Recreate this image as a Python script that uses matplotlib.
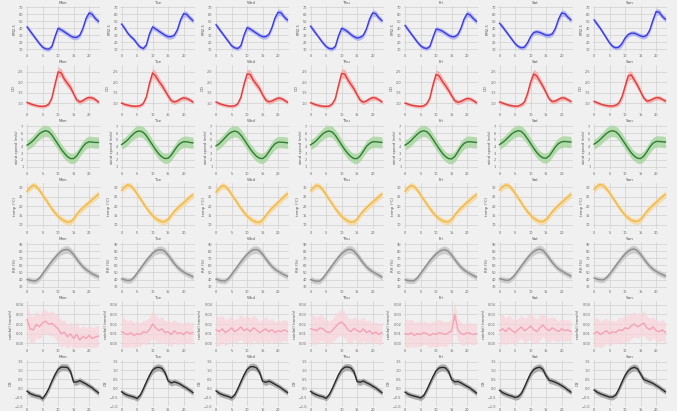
import numpy as np
import matplotlib.pyplot as plt

days = ['Mon', 'Tue', 'Wed', 'Thu', 'Fri', 'Sat', 'Sun']
hours = list(range(24))

# row 1 - blue
pm25 = [
    [42, 36, 30, 24, 18, 13, 10.5, 10, 14, 28, 40, 38, 35, 32, 29, 27, 27, 30, 40, 54, 62, 60, 54, 50],
    [46, 40, 33, 28, 24, 18, 13, 11, 16, 32, 42, 39, 36, 33, 30, 28, 28, 30, 38, 52, 61, 60, 55, 51],
    [45, 39, 33, 27, 21, 15, 12, 11, 15, 30, 41, 39, 36, 33, 30, 28, 28, 31, 41, 55, 63, 62, 56, 52],
    [43, 37, 31, 25, 19, 14, 11, 10.5, 14, 29, 40, 38, 35, 31, 28, 26, 27, 30, 39, 53, 62, 61, 55, 51],
    [44, 38, 32, 26, 20, 15, 12, 11, 14, 27, 39, 38, 36, 33, 30, 28, 28, 31, 40, 53, 61, 59, 54, 50],
    [47, 42, 36, 30, 24, 18, 14, 12, 13, 19, 28, 34, 35, 34, 32, 30, 30, 32, 40, 53, 62, 61, 56, 52],
    [52, 46, 40, 33, 26, 19, 14, 12, 13, 18, 26, 31, 33, 33, 31, 29, 28, 30, 38, 52, 64, 63, 57, 53],
]
pm25_err = [3.5, 3.5, 3, 3, 3, 3, 3, 3, 3.5, 4, 4, 3.5, 3.5, 3.5, 3.5, 3.5, 3.5, 3.5, 4, 4.5, 4.5, 4.5, 4, 4]

# row 2 - red
co = [
    [1.03, 0.97, 0.92, 0.88, 0.85, 0.84, 0.86, 0.95, 1.25, 1.9, 2.5, 2.45, 2.15, 1.95, 1.75, 1.45, 1.15, 1.05, 1.12, 1.22, 1.27, 1.25, 1.17, 1.05],
    [1.0, 0.94, 0.9, 0.87, 0.85, 0.85, 0.88, 0.98, 1.3, 1.95, 2.45, 2.3, 2.05, 1.85, 1.6, 1.35, 1.12, 1.05, 1.1, 1.2, 1.25, 1.22, 1.15, 1.05],
    [1.05, 0.98, 0.93, 0.89, 0.86, 0.85, 0.87, 0.97, 1.28, 1.9, 2.4, 2.38, 2.1, 1.9, 1.7, 1.4, 1.15, 1.06, 1.1, 1.18, 1.24, 1.22, 1.14, 1.04],
    [1.02, 0.96, 0.91, 0.87, 0.85, 0.84, 0.86, 0.96, 1.22, 1.85, 2.42, 2.4, 2.12, 1.9, 1.68, 1.4, 1.14, 1.04, 1.1, 1.2, 1.26, 1.24, 1.16, 1.06],
    [1.0, 0.95, 0.9, 0.87, 0.85, 0.84, 0.87, 0.97, 1.25, 1.88, 2.38, 2.3, 2.05, 1.85, 1.62, 1.36, 1.12, 1.04, 1.08, 1.16, 1.22, 1.2, 1.12, 1.02],
    [1.05, 1.0, 0.95, 0.9, 0.87, 0.85, 0.86, 0.92, 1.05, 1.45, 2.0, 2.4, 2.3, 2.05, 1.8, 1.5, 1.2, 1.07, 1.1, 1.18, 1.25, 1.24, 1.16, 1.08],
    [1.08, 1.02, 0.96, 0.91, 0.88, 0.86, 0.86, 0.9, 1.0, 1.3, 1.8, 2.3, 2.35, 2.1, 1.85, 1.55, 1.25, 1.1, 1.12, 1.2, 1.26, 1.25, 1.18, 1.1],
]
co_err = [0.09, 0.09, 0.08, 0.08, 0.08, 0.08, 0.08, 0.09, 0.13, 0.18, 0.22, 0.22, 0.2, 0.19, 0.18, 0.16, 0.13, 0.11, 0.11, 0.11, 0.11, 0.11, 0.1, 0.1]

# row 3 - green
wind = [
    [4.2, 4.5, 4.9, 5.4, 5.9, 6.2, 6.35, 6.2, 5.7, 5.0, 4.3, 3.6, 3.0, 2.5, 2.2, 2.2, 2.6, 3.3, 4.0, 4.5, 4.7, 4.65, 4.6, 4.6],
    [4.3, 4.6, 5.0, 5.5, 5.95, 6.25, 6.3, 6.1, 5.6, 4.9, 4.2, 3.5, 2.9, 2.45, 2.2, 2.25, 2.7, 3.4, 4.05, 4.5, 4.7, 4.7, 4.6, 4.55],
    [4.1, 4.4, 4.85, 5.35, 5.85, 6.15, 6.3, 6.15, 5.7, 5.05, 4.35, 3.65, 3.05, 2.55, 2.25, 2.2, 2.55, 3.2, 3.9, 4.4, 4.65, 4.65, 4.6, 4.55],
    [4.25, 4.55, 4.95, 5.45, 5.9, 6.2, 6.3, 6.15, 5.65, 4.95, 4.25, 3.55, 2.95, 2.5, 2.2, 2.2, 2.6, 3.3, 4.0, 4.45, 4.7, 4.7, 4.65, 4.6],
    [4.2, 4.5, 4.9, 5.4, 5.85, 6.2, 6.35, 6.2, 5.75, 5.05, 4.35, 3.65, 3.0, 2.5, 2.2, 2.15, 2.5, 3.2, 3.95, 4.45, 4.7, 4.7, 4.65, 4.6],
    [4.3, 4.6, 5.0, 5.45, 5.9, 6.2, 6.35, 6.25, 5.8, 5.15, 4.45, 3.75, 3.1, 2.6, 2.3, 2.25, 2.6, 3.25, 3.95, 4.45, 4.7, 4.75, 4.7, 4.65],
    [4.35, 4.65, 5.05, 5.5, 5.95, 6.25, 6.35, 6.2, 5.75, 5.1, 4.4, 3.7, 3.05, 2.55, 2.25, 2.2, 2.55, 3.2, 3.95, 4.5, 4.75, 4.75, 4.7, 4.65],
]
wind_err = [0.75, 0.75, 0.8, 0.8, 0.85, 0.85, 0.85, 0.85, 0.85, 0.85, 0.8, 0.8, 0.8, 0.75, 0.75, 0.75, 0.8, 0.8, 0.85, 0.85, 0.85, 0.85, 0.85, 0.85]

# row 4 - yellow
temp = [
    [28, 30, 31.3, 30.5, 28.5, 26, 23.5, 21, 18.5, 16.3, 14.5, 13, 12, 11.3, 11.5, 13, 15.5, 17.5, 19, 20.5, 22, 23.5, 25, 26.3],
    [28.5, 30.3, 31.5, 30.8, 29, 26.5, 24, 21.5, 19, 16.8, 14.8, 13.2, 12.2, 11.5, 11.6, 12.8, 15, 17.2, 18.8, 20.3, 21.8, 23.3, 24.8, 26],
    [27.5, 29.5, 31, 30.6, 28.8, 26.3, 23.8, 21.3, 18.8, 16.5, 14.6, 13.1, 12, 11.2, 11.2, 12.5, 14.8, 17, 18.8, 20.4, 22, 23.6, 25.2, 26.5],
    [28.2, 30.1, 31.2, 30.5, 28.6, 26.1, 23.6, 21.1, 18.6, 16.4, 14.5, 13, 11.9, 11.2, 11.4, 12.9, 15.3, 17.4, 19, 20.6, 22.1, 23.6, 25.1, 26.4],
    [28, 29.9, 31.1, 30.4, 28.5, 26, 23.5, 21, 18.6, 16.4, 14.6, 13.1, 12.1, 11.4, 11.5, 12.8, 15.1, 17.2, 18.9, 20.5, 22, 23.4, 24.9, 26.1],
    [28.6, 30.4, 31.4, 30.9, 29.2, 26.8, 24.3, 21.8, 19.2, 16.9, 15, 13.4, 12.3, 11.6, 11.6, 12.7, 14.8, 17, 18.8, 20.4, 21.9, 23.4, 24.9, 26.2],
    [29, 30.7, 31.6, 31, 29.3, 27, 24.5, 22, 19.4, 17.1, 15.1, 13.5, 12.4, 11.7, 11.7, 12.8, 14.9, 17.1, 18.9, 20.5, 22, 23.5, 25, 26.3],
]
temp_err = [1.8, 1.8, 1.7, 1.6, 1.6, 1.6, 1.6, 1.6, 1.6, 1.6, 1.6, 1.6, 1.6, 1.6, 1.7, 1.7, 1.7, 1.7, 1.8, 1.8, 1.8, 1.9, 1.9, 1.9]

# row 5 - gray
rh = [
    [40, 39, 38, 38.5, 42, 48, 54, 60, 66, 71, 76, 80, 82, 82.5, 80, 75, 69, 63, 58, 54, 51, 48, 46, 44],
    [41, 39.5, 38.5, 39, 43, 49, 55, 61, 67, 72, 77, 80.5, 82, 82, 79.5, 74.5, 68.5, 62.5, 57.5, 53.5, 50.5, 48, 46, 44],
    [40.5, 39, 38, 38, 41.5, 47, 53, 59, 65, 70.5, 75.5, 79.5, 82, 82.5, 80.5, 75.5, 69.5, 63.5, 58.5, 54.5, 51.5, 49, 46.5, 44.5],
    [40, 38.5, 37.5, 38, 42, 48, 54, 60, 66, 71.5, 76.5, 80, 82.5, 82.5, 80, 75, 69, 63, 58, 54, 51, 48.5, 46, 43.5],
    [39.5, 38.5, 38, 38.5, 42.5, 48.5, 54.5, 60.5, 66.5, 71.5, 76, 79.5, 81.5, 82, 79.5, 74.5, 68.5, 62.5, 57.5, 53.5, 50.5, 48, 45.5, 43.5],
    [41, 40, 39, 39, 42, 47, 53, 59, 65, 70.5, 75.5, 79.5, 82, 83, 81, 76, 70, 64, 59, 55, 52, 49.5, 47, 45],
    [42, 40.5, 39.5, 39.5, 42.5, 47.5, 53.5, 59.5, 65.5, 71, 76, 80, 82.5, 83, 80.5, 75.5, 69.5, 63.5, 58.5, 54.5, 51.5, 49, 47, 45],
]
rh_err = [4.0, 4.0, 4.0, 4.0, 4.0, 4.2, 4.4, 4.6, 4.8, 5.0, 5.0, 5.2, 5.4, 5.4, 5.2, 5.0, 4.8, 4.6, 4.4, 4.2, 4.0, 4.0, 4.0, 4.0]

# row 6 - pink
rain = [
    [0.0246, 0.0148, 0.0138, 0.0197, 0.0171, 0.0213, 0.0230, 0.0197, 0.0207, 0.0180, 0.0148, 0.0098, 0.0115, 0.0066, 0.0098, 0.0049, 0.0092, 0.0033, 0.0072, 0.0049, 0.0082, 0.0049, 0.0066, 0.0072],
    [0.012, 0.010, 0.009, 0.011, 0.008, 0.010, 0.009, 0.012, 0.011, 0.014, 0.020, 0.016, 0.013, 0.015, 0.011, 0.012, 0.009, 0.013, 0.010, 0.011, 0.009, 0.012, 0.010, 0.011],
    [0.014, 0.012, 0.015, 0.011, 0.013, 0.016, 0.012, 0.014, 0.017, 0.013, 0.015, 0.012, 0.016, 0.014, 0.011, 0.013, 0.015, 0.012, 0.014, 0.011, 0.013, 0.012, 0.014, 0.012],
    [0.015, 0.014, 0.013, 0.016, 0.015, 0.012, 0.011, 0.013, 0.017, 0.0205, 0.022, 0.019, 0.014, 0.012, 0.0156, 0.013, 0.0117, 0.015, 0.011, 0.013, 0.0098, 0.0117, 0.009, 0.011],
    [0.010, 0.009, 0.011, 0.008, 0.010, 0.009, 0.011, 0.010, 0.008, 0.010, 0.009, 0.011, 0.010, 0.009, 0.011, 0.013, 0.030, 0.014, 0.010, 0.009, 0.011, 0.010, 0.009, 0.010],
    [0.013, 0.015, 0.012, 0.016, 0.013, 0.011, 0.014, 0.017, 0.013, 0.015, 0.018, 0.014, 0.012, 0.016, 0.019, 0.015, 0.013, 0.016, 0.014, 0.012, 0.015, 0.013, 0.014, 0.012],
    [0.010, 0.012, 0.009, 0.011, 0.013, 0.010, 0.012, 0.011, 0.014, 0.013, 0.016, 0.015, 0.018, 0.020, 0.017, 0.019, 0.021, 0.016, 0.014, 0.017, 0.013, 0.012, 0.014, 0.011],
]
rain_err = [0.016, 0.015, 0.014, 0.014, 0.013, 0.013, 0.012, 0.012, 0.013, 0.013, 0.014, 0.014, 0.013, 0.013, 0.012, 0.012, 0.013, 0.012, 0.012, 0.011, 0.011, 0.011, 0.011, 0.011]

# row 7 - black
o3 = [
    [-0.17, -0.30, -0.37, -0.43, -0.46, -0.59, -0.35, -0.02, 0.39, 0.76, 1.06, 1.19, 1.19, 1.17, 0.94, 0.35, 0.35, 0.43, 0.33, 0.24, 0.13, 0.02, -0.13, -0.26],
    [-0.20, -0.32, -0.40, -0.45, -0.50, -0.58, -0.40, -0.05, 0.35, 0.72, 1.02, 1.15, 1.18, 1.12, 0.88, 0.42, 0.30, 0.36, 0.30, 0.22, 0.10, 0.00, -0.12, -0.25],
    [-0.15, -0.28, -0.36, -0.42, -0.47, -0.55, -0.38, -0.04, 0.36, 0.74, 1.05, 1.20, 1.22, 1.15, 0.90, 0.40, 0.33, 0.40, 0.32, 0.22, 0.12, 0.01, -0.12, -0.24],
    [-0.18, -0.30, -0.38, -0.44, -0.48, -0.57, -0.37, -0.03, 0.37, 0.75, 1.04, 1.18, 1.20, 1.14, 0.92, 0.38, 0.34, 0.41, 0.31, 0.23, 0.12, 0.02, -0.12, -0.25],
    [-0.22, -0.33, -0.40, -0.45, -0.49, -0.55, -0.42, -0.10, 0.28, 0.65, 0.98, 1.14, 1.18, 1.15, 0.95, 0.50, 0.36, 0.38, 0.30, 0.20, 0.10, 0.00, -0.14, -0.27],
    [-0.12, -0.25, -0.33, -0.40, -0.45, -0.52, -0.48, -0.30, 0.05, 0.45, 0.82, 1.05, 1.15, 1.18, 1.05, 0.70, 0.45, 0.40, 0.33, 0.25, 0.15, 0.04, -0.10, -0.22],
    [-0.10, -0.22, -0.31, -0.38, -0.44, -0.50, -0.50, -0.38, -0.05, 0.35, 0.72, 0.98, 1.12, 1.18, 1.10, 0.80, 0.50, 0.42, 0.35, 0.27, 0.16, 0.05, -0.08, -0.20],
]
o3_err = [0.15, 0.15, 0.15, 0.15, 0.15, 0.15, 0.16, 0.17, 0.18, 0.19, 0.2, 0.2, 0.2, 0.2, 0.19, 0.18, 0.18, 0.17, 0.16, 0.15, 0.15, 0.15, 0.15, 0.15]

ylabels = ['PM2.5', 'CO', 'wind speed (m/s)', 'temp (°C)', 'RH (%)', 'rainfall (mm/h)', 'O3']
yticks = [
    [10, 20, 30, 40, 50, 60, 70],
    [1.0, 1.5, 2.0, 2.5],
    [1, 2, 3, 4, 5, 6, 7],
    [10, 15, 20, 25, 30],
    [30, 40, 50, 60, 70, 80, 90],
    [0.00, 0.01, 0.02, 0.03, 0.04],
    [-1.0, -0.5, 0.0, 0.5, 1.0, 1.5],
]
ylims = [(6, 72), (0.62, 2.83), (0.5, 7.35), (7.6, 32.4), (28, 93), (-0.004, 0.044), (-0.96, 1.59)]
series = [pm25, co, wind, temp, rh, rain, o3]
errors = [pm25_err, co_err, wind_err, temp_err, rh_err, rain_err, o3_err]
line_colors = ['#3a3ae0', '#e23a3a', '#2f7d32', '#f2b844', '#8c8c8c', '#f5a3b4', '#2a2a2a']
band_colors = ['#a8acf2', '#f5a6a6', '#a6d69c', '#f7d89a', '#c4c4c4', '#f9d3dc', '#9c9c9c']
band_alpha = [0.8, 0.8, 0.8, 0.8, 0.8, 0.7, 0.8]

bg = '#f0f0f0'
W, H = 677, 411
fig = plt.figure(figsize=(6.77, 4.11), dpi=100, facecolor=bg)

for r in range(7):
    for c in range(7):
        left = (25.5 + 94.5 * c) / W
        bottom = 1 - (6 + 59 * r + 46) / H
        ax = fig.add_axes([left, bottom, 74.5 / W, 46 / H])
        ax.set_facecolor(bg)
        y = np.array(series[r][c])
        e = np.array(errors[r])
        ax.fill_between(hours, y - e, y + e, color=band_colors[r], alpha=band_alpha[r], lw=0)
        ax.plot(hours, y, color=line_colors[r], lw=1.0)
        ax.set_xlim(-0.5, 23.5)
        ax.set_ylim(*ylims[r])
        ax.set_xticks([0, 5, 10, 15, 20])
        ax.set_yticks(yticks[r])
        if r == 5:
            ax.set_yticklabels(['%.2f' % v for v in yticks[r]])
        ax.grid(True, color='#d0d0d0', lw=0.5)
        ax.set_axisbelow(True)
        for s in ax.spines.values():
            s.set_visible(False)
        ax.tick_params(length=0, labelsize=2.5, pad=1.5, colors='#666666')
        ax.set_title(days[c], fontsize=3, pad=1.5, color='#555555')
        ax.set_ylabel(ylabels[r], fontsize=2.8, labelpad=1.5, color='#555555')

fig.savefig('out.png', dpi=100, facecolor=bg)
